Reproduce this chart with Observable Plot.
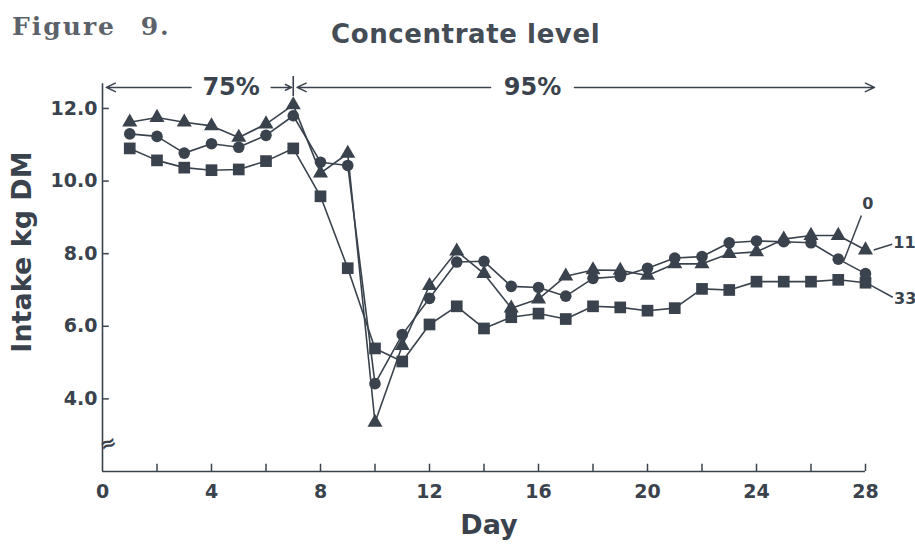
<!DOCTYPE html>
<html>
<head>
<meta charset="utf-8">
<script src="https://cdn.jsdelivr.net/npm/d3@7"></script>
<script src="https://cdn.jsdelivr.net/npm/@observablehq/plot@0.6"></script>
<style>
  html, body { margin: 0; padding: 0; background: #fff; }
  #wrap { position: relative; width: 915px; height: 548px; overflow: hidden; }
  #head { position: relative; height: 60px; }
  .fig { position: absolute; left: 12px; top: 14px; font: bold 25px/1 "DejaVu Serif", serif; color: #5b626a; letter-spacing: 2px; word-spacing: 14px; white-space: nowrap; }
  .ttl { position: absolute; left: 331px; top: 21px; font: bold 26px/1 "DejaVu Sans", sans-serif; color: #444c56; letter-spacing: 0.6px; white-space: nowrap; }
  #chart svg { display: block; }
</style>
</head>
<body>
<div id="wrap">
  <div id="head">
    <span class="fig">Figure 9.</span>
    <span class="ttl">Concentrate level</span>
  </div>
  <div id="chart"></div>
</div>
<script>
// Daily dry-matter intake (kg DM) for three treatment groups
const days = [1, 2, 3, 4, 5, 6, 7, 8, 9, 10, 11, 12, 13, 14, 15, 16, 17, 18, 19, 20, 21, 22, 23, 24, 25, 26, 27, 28];
const seriesNames = ["0", "11", "33"];
const intake0 = [11.3, 11.23, 10.77, 11.03, 10.93, 11.26, 11.8, 10.52, 10.43, 4.42, 5.77, 6.77, 7.77, 7.79, 7.1, 7.07, 6.83, 7.32, 7.37, 7.6, 7.88, 7.92, 8.3, 8.35, 8.33, 8.3, 7.85, 7.45];
const intake11 = [11.62, 11.75, 11.62, 11.52, 11.2, 11.57, 12.1, 10.22, 10.76, 3.35, 5.47, 7.12, 8.07, 7.45, 6.5, 6.75, 7.38, 7.55, 7.54, 7.4, 7.72, 7.72, 8.0, 8.05, 8.4, 8.5, 8.5, 8.1];
const intake33 = [10.9, 10.57, 10.37, 10.3, 10.32, 10.55, 10.9, 9.58, 7.6, 5.39, 5.03, 6.05, 6.55, 5.94, 6.25, 6.35, 6.2, 6.55, 6.52, 6.43, 6.5, 7.03, 7.0, 7.23, 7.23, 7.23, 7.28, 7.2];

// Concentrate periods shown above the plot
const periodLabels = ["75%", "95%"];
const periodStart = [0, 7];
const periodEnd = [7, 28];

// Axis ticks
const yTicks = [4, 6, 8, 10, 12];
const xLabelTicks = [0, 4, 8, 12, 16, 20, 24, 28];
const xMinorTicks = [2, 4, 6, 8, 10, 12, 14, 16, 18, 20, 22, 24, 26, 28];

const ink = "#3a434d";
const font = "DejaVu Sans";

const seriesValues = [intake0, intake11, intake33];
const symbols = ["circle", "triangle", "square"];
const radii = [5.8, 5.6, 6.6];

const rows = seriesValues.flatMap((vals, s) =>
  days.map((d, i) => ({day: d, value: vals[i], series: seriesNames[s]}))
);

// Placement of period labels along the arrow row (in days) and their half widths
const periodLabelAt = [4.72, 15.78];
const periodLabelHalf = [1.35, 1.42];
const arrowY = 12.58;
const arrowSegs = periodLabels.flatMap((p, i) => [
  {x1: periodLabelAt[i] - periodLabelHalf[i] - 0.12, x2: periodStart[i] + 0.14},
  {x1: periodLabelAt[i] + periodLabelHalf[i] + 0.12, x2: periodEnd[i] - (i === 0 ? 0.06 : -0.33)}
]);

// Series-name leaders drawn past the last day
const leaders = [
  {name: "0",  fx: 27.2, fy: 7.8,  tx: 27.85, ty: 9.05, lx: 27.88, ly: 9.36},
  {name: "11", fx: 28.3, fy: 8.1,  tx: 28.98, ty: 8.26, lx: 29.02, ly: 8.3},
  {name: "33", fx: 28.15, fy: 7.15, tx: 29.0, ty: 6.8,  lx: 29.05, ly: 6.76}
];

const chart = Plot.plot({
  width: 915,
  height: 488,
  marginTop: 28,
  marginBottom: 77,
  marginLeft: 102,
  marginRight: 50,
  x: {domain: [0, 28]},
  y: {domain: [2, 12.55]},
  style: {fontFamily: font, color: ink, background: "white", overflow: "visible"},
  marks: [
    // axis frame lines
    Plot.ruleX([0], {y1: 2, y2: 12.68, stroke: ink, strokeWidth: 1.6}),
    Plot.ruleY([2], {x1: 0, x2: 28, stroke: ink, strokeWidth: 1.6}),
    // inward tick marks
    Plot.ruleY(yTicks, {x1: 0, x2: 0.25, stroke: ink, strokeWidth: 1.5}),
    Plot.ruleX(xMinorTicks, {y1: 2, y2: 2.2, stroke: ink, strokeWidth: 1.5}),
    Plot.axisY({ticks: yTicks, tickSize: 0, tickPadding: 5, tickFormat: d => d.toFixed(1), fontSize: 19, fontWeight: "bold", label: null}),
    Plot.axisX({ticks: xLabelTicks, tickSize: 0, tickPadding: 13, fontSize: 19, fontWeight: "bold", label: null}),
    // axis break symbol
    Plot.text(["≈"], {frameAnchor: "bottom-left", dy: -19, dx: 0, fontSize: 20, fontWeight: "bold", fill: ink, rotate: -20}),
    // axis titles
    Plot.text(["Intake kg DM"], {frameAnchor: "left", textAnchor: "middle", rotate: -90, dx: -80, dy: -28, fontSize: 27, fontWeight: "bold", fill: ink}),
    Plot.text(["Day"], {frameAnchor: "bottom", dx: 5, dy: 62, fontSize: 27, fontWeight: "bold", fill: ink}),
    // concentrate period annotation
    Plot.arrow(arrowSegs, {x1: "x1", x2: "x2", y1: arrowY, y2: arrowY, stroke: ink, strokeWidth: 1.5, headLength: 10, headAngle: 50}),
    Plot.ruleX([periodEnd[0]], {y1: 12.33, y2: 12.88, stroke: ink, strokeWidth: 1.6}),
    Plot.text(periodLabels, {x: (d, i) => periodLabelAt[i], y: arrowY, fontSize: 24, fill: ink, fontWeight: "bold"}),
    // intake lines
    Plot.line(rows, {x: "day", y: "value", z: "series", stroke: ink, strokeWidth: 1.6}),
    ...seriesNames.map((name, s) =>
      Plot.dot(rows.filter(r => r.series === name), {x: "day", y: "value", symbol: symbols[s], r: radii[s], fill: ink, stroke: "none"})
    ),
    // series labels
    Plot.link(leaders, {x1: "fx", y1: "fy", x2: "tx", y2: "ty", stroke: ink, strokeWidth: 1.5}),
    Plot.text(leaders, {x: "lx", y: "ly", text: "name", textAnchor: "start", fontSize: 16, fontWeight: "bold", fill: ink, letterSpacing: 1})
  ]
});

document.getElementById("chart").appendChild(chart);
</script>
</body>
</html>
